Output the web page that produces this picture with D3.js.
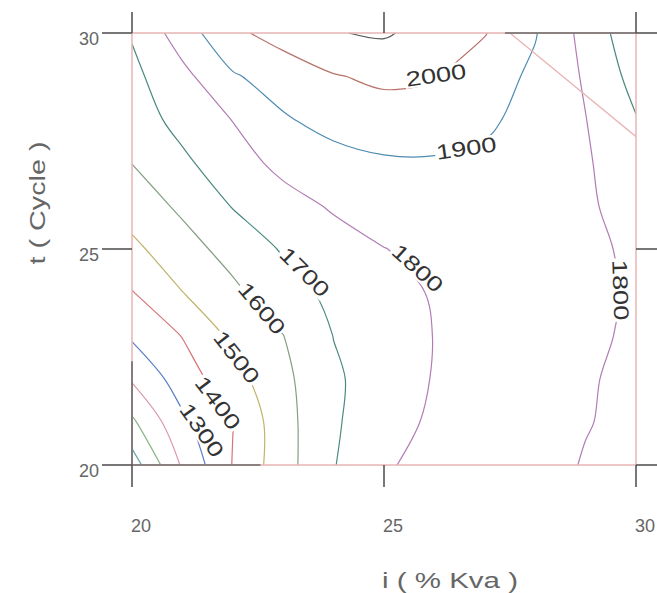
<!DOCTYPE html>
<html>
<head>
<meta charset="utf-8">
<title>Contour plot</title>
<script src="https://d3js.org/d3.v7.min.js"></script>
<style>
  body { margin: 0; background: #fff; }
  svg { font-family: "Liberation Sans", Arial, sans-serif; }
  .frame { fill: none; stroke: #e8b4b4; stroke-width: 1.5; }
  .frame-dark { stroke: #6a6a6a; stroke-width: 1.6; }
  .tick-line { stroke: #555; stroke-width: 1.6; }
  .tick-label { fill: #666; font-size: 18px; }
  .axis-title { fill: #666; font-size: 22px; }
  .contour { fill: none; stroke-width: 1.2; }
  .clabel { fill: #333; font-size: 21px; }
</style>
</head>
<body>
<svg id="chart" width="657" height="593"></svg>
<script>
// grid axes: i (% Kva) and t (Cycle)
const iValues = [20, 21, 22, 23, 24, 25, 26, 27, 28, 29, 30];
const tValues = [20, 21, 22, 23, 24, 25, 26, 27, 28, 29, 30];

// response, one row per t (t = 20 first), columns i = 20..30
const z20 = [950, 1213, 1404, 1561, 1695, 1793, 1820, 1830, 1822, 1796, 1775];
const z21 = [1083, 1281, 1398, 1565, 1685, 1775, 1810, 1820, 1818, 1803, 1785];
const z22 = [1213, 1349, 1463, 1576, 1685, 1750, 1805, 1815, 1815, 1806, 1785];
const z23 = [1315, 1404, 1523, 1599, 1702, 1752, 1802, 1812, 1815, 1810, 1792];
const z24 = [1396, 1499, 1579, 1665, 1721, 1766, 1808, 1818, 1818, 1810, 1795];
const z25 = [1478, 1560, 1637, 1709, 1754, 1798, 1825, 1830, 1825, 1812, 1790];
const z26 = [1543, 1619, 1705, 1759, 1812, 1845, 1858, 1855, 1840, 1809, 1775];
const z27 = [1602, 1683, 1754, 1830, 1865, 1888, 1890, 1878, 1845, 1806, 1765];
const z28 = [1655, 1729, 1803, 1890, 1935, 1955, 1952, 1920, 1861, 1802, 1705];
const z29 = [1676, 1772, 1890, 1945, 1994, 2020, 2007, 1947, 1881, 1789, 1665];
const z30 = [1708, 1851, 1980, 2038, 2095, 2112, 2059, 2005, 1906, 1767, 1630];

const levels = [1000, 1100, 1200, 1300, 1400, 1500, 1600, 1700, 1800, 1900, 2000, 2100];
const levelColors = ["#5ea3a3", "#86b486", "#dc98a8", "#5a7ec8", "#d87478", "#c0b46a",
                     "#86a084", "#4a8a80", "#b27cb4", "#4e8cb2", "#b8726a", "#555555"];

// contour labels: level, i, t, angle
const labelLevels = [2000, 1900, 1700, 1800, 1600, 1500, 1400, 1300, 1800];
const labelI = [26.03, 26.63, 23.43, 25.67, 22.58, 22.08, 21.71, 21.39, 29.70];
const labelT = [29.03, 27.34, 24.47, 24.56, 23.63, 22.50, 21.44, 20.81, 24.05];
const labelAngle = [-8, -8, 45, 42, 50, 52, 53, 55, 88];

// straight boundary line in the upper right corner
const edgeLineI = [27.5, 30];
const edgeLineT = [30, 27.6];

// parts of the frame drawn dark: [side, from, to]
const darkSides = ["top", "bottom", "left"];
const darkFrom = [27.4, 20, 20];
const darkTo = [30, 22.55, 22.4];

const xTicks = [20, 25, 30];
const yTicks = [20, 25, 30];

const svg = d3.select("#chart");

const x = d3.scaleLinear().domain([20, 30]).range([132, 636]);
const y = d3.scaleLinear().domain([20, 30]).range([465, 33]);

const nx = iValues.length, ny = tValues.length;
const values = [z20, z21, z22, z23, z24, z25, z26, z27, z28, z29, z30].flat();

// grid coordinates from d3.contours -> data units
const gi = d3.scaleLinear().domain([0.5, nx - 0.5]).range(d3.extent(iValues));
const gt = d3.scaleLinear().domain([0.5, ny - 0.5]).range(d3.extent(tValues));

const contours = d3.contours().size([nx, ny]).thresholds(levels)(values);

svg.append("clipPath").attr("id", "plot-clip")
  .append("rect")
  .attr("x", x(20)).attr("y", y(30))
  .attr("width", x(30) - x(20)).attr("height", y(20) - y(30));

// split contour rings into open lines, dropping parts that run along the grid border
const eps = 1e-6;
function onSides(p) {
  const s = [];
  if (Math.abs(p[0] - 0.5) < eps) s.push("l");
  if (Math.abs(p[0] - (nx - 0.5)) < eps) s.push("r");
  if (Math.abs(p[1] - 0.5) < eps) s.push("b");
  if (Math.abs(p[1] - (ny - 0.5)) < eps) s.push("t");
  return s;
}
function inside(p) {
  return p[0] >= 0.5 - eps && p[0] <= nx - 0.5 + eps && p[1] >= 0.5 - eps && p[1] <= ny - 0.5 + eps;
}
function splitRing(ring) {
  const m = ring.length - 1;
  const ok = d3.range(m).map(k => {
    const a = ring[k], b = ring[k + 1];
    if (!inside(a) || !inside(b)) return false;
    const sa = onSides(a), sb = onSides(b);
    return !sa.some(s => sb.includes(s));
  });
  if (ok.every(Boolean)) return [{ pts: ring.slice(0, m), closed: true }];
  const start = ok.indexOf(false);
  const out = [];
  let cur = null;
  for (let s = 1; s <= m; s++) {
    const k = (start + s) % m;
    if (ok[k]) {
      if (!cur) cur = [ring[k]];
      cur.push(ring[k + 1]);
    } else if (cur) { out.push(cur); cur = null; }
  }
  if (cur) out.push(cur);
  return out.map(p => ({ pts: p, closed: false }));
}

const openLine = d3.line().x(p => x(gi(p[0]))).y(p => y(gt(p[1]))).curve(d3.curveCatmullRom.alpha(0.5));
const closedLine = d3.line().x(p => x(gi(p[0]))).y(p => y(gt(p[1]))).curve(d3.curveCatmullRomClosed.alpha(0.5));

const plot = svg.append("g").attr("clip-path", "url(#plot-clip)");

contours.forEach((c, idx) => {
  const pieces = [];
  c.coordinates.forEach(poly => poly.forEach(ring => pieces.push(...splitRing(ring))));
  plot.selectAll(null)
    .data(pieces)
    .enter().append("path")
    .attr("class", "contour")
    .attr("stroke", levelColors[idx])
    .attr("d", d => d.closed ? closedLine(d.pts) : openLine(d.pts));
});

plot.append("line")
  .attr("x1", x(edgeLineI[0])).attr("y1", y(edgeLineT[0]))
  .attr("x2", x(edgeLineI[1])).attr("y2", y(edgeLineT[1]))
  .attr("stroke", "#e8b4b4").attr("stroke-width", 1.3);

// contour labels with a white box that breaks the line
labelLevels.forEach((lv, k) => {
  const g = svg.append("g")
    .attr("transform", `translate(${x(labelI[k])},${y(labelT[k])}) rotate(${labelAngle[k]}) scale(1.3,1)`);
  const bg = g.append("rect").attr("fill", "#fff");
  const txt = g.append("text")
    .attr("class", "clabel")
    .attr("text-anchor", "middle")
    .attr("dy", "0.36em")
    .text(lv);
  const bb = txt.node().getBBox();
  bg.attr("x", bb.x - 1).attr("y", bb.y + 2).attr("width", bb.width + 2).attr("height", bb.height - 4);
});

// frame
svg.append("rect")
  .attr("class", "frame")
  .attr("x", x(20)).attr("y", y(30))
  .attr("width", x(30) - x(20)).attr("height", y(20) - y(30));

darkSides.forEach((side, k) => {
  const seg = svg.append("line").attr("class", "frame-dark");
  if (side === "top" || side === "bottom") {
    const yy = side === "top" ? y(30) : y(20);
    seg.attr("x1", x(darkFrom[k])).attr("x2", x(darkTo[k])).attr("y1", yy).attr("y2", yy);
  } else {
    seg.attr("x1", x(20)).attr("x2", x(20)).attr("y1", y(darkFrom[k])).attr("y2", y(darkTo[k]));
  }
});

// ticks on all four sides
xTicks.forEach(v => {
  svg.append("line").attr("class", "tick-line")
    .attr("x1", x(v)).attr("x2", x(v)).attr("y1", y(20)).attr("y2", y(20) + 22);
  svg.append("line").attr("class", "tick-line")
    .attr("x1", x(v)).attr("x2", x(v)).attr("y1", y(30)).attr("y2", y(30) - 21);
  svg.append("text").attr("class", "tick-label")
    .attr("x", x(v) + 9).attr("y", 532)
    .attr("text-anchor", "middle")
    .text(v);
});
yTicks.forEach(v => {
  svg.append("line").attr("class", "tick-line")
    .attr("x1", x(20) - 30).attr("x2", x(20)).attr("y1", y(v)).attr("y2", y(v));
  svg.append("line").attr("class", "tick-line")
    .attr("x1", x(30)).attr("x2", x(30) + 22).attr("y1", y(v)).attr("y2", y(v));
  svg.append("text").attr("class", "tick-label")
    .attr("x", 99).attr("y", y(v) + 12)
    .attr("text-anchor", "end")
    .text(v);
});

svg.append("text").attr("class", "axis-title")
  .attr("x", 450).attr("y", 588)
  .attr("text-anchor", "middle")
  .attr("textLength", 136).attr("lengthAdjust", "spacingAndGlyphs")
  .text("i ( % Kva )");

svg.append("text").attr("class", "axis-title")
  .attr("transform", "translate(45,203) rotate(-90)")
  .attr("text-anchor", "middle")
  .attr("textLength", 123).attr("lengthAdjust", "spacingAndGlyphs")
  .text("t ( Cycle )");
</script>
</body>
</html>
